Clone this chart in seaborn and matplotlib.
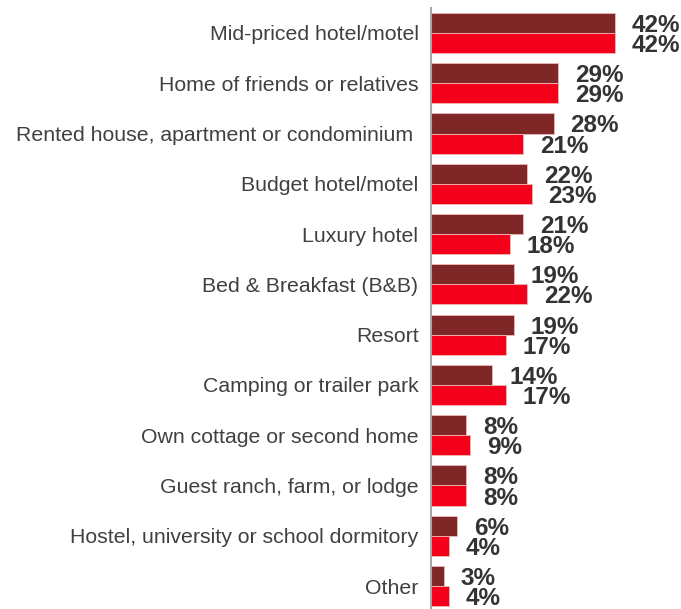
import matplotlib
matplotlib.use("Agg")
import matplotlib.pyplot as plt
import seaborn as sns
import pandas as pd

categories = [
    "Mid-priced hotel/motel",
    "Home of friends or relatives",
    "Rented house, apartment or condominium ",
    "Budget hotel/motel",
    "Luxury hotel",
    "Bed & Breakfast (B&B)",
    "Resort",
    "Camping or trailer park",
    "Own cottage or second home",
    "Guest ranch, farm, or lodge",
    "Hostel, university or school dormitory",
    "Other",
]
series_names = ["Group 1", "Group 2"]
values_group1 = [42, 29, 28, 22, 21, 19, 19, 14, 8, 8, 6, 3]
values_group2 = [42, 29, 21, 23, 18, 22, 17, 17, 9, 8, 4, 4]
colors = ["#7F2726", "#F5001A"]

df = pd.DataFrame({
    "category": categories * 2,
    "series": [series_names[0]] * len(categories) + [series_names[1]] * len(categories),
    "value": values_group1 + values_group2,
})

sns.set_style("white")
plt.rcParams["font.family"] = ["Liberation Sans", "DejaVu Sans"]

fig = plt.figure(figsize=(6.81, 6.09), dpi=100)
ax = fig.add_axes([431 / 681, 0.0, 1 - 431 / 681, 1 - 8 / 609])

sns.barplot(
    data=df, y="category", x="value", hue="series", order=categories,
    hue_order=series_names, palette=colors, saturation=1, orient="h", width=0.8,
    edgecolor="#F2B8B8", linewidth=0.6, legend=False, ax=ax,
)

# value labels just past the end of each bar
for container in ax.containers:
    for bar in container:
        w = bar.get_width()
        ax.annotate(
            f"{w:.0f}%", xy=(w, bar.get_y() + bar.get_height() / 2),
            xytext=(12, 0), textcoords="offset points",
            ha="left", va="center_baseline", fontsize=17.5, fontweight="bold",
            color="#333333",
        )

ax.set_xlim(0, 57)
ax.set_ylim(11.457, -0.497)
ax.set_xlabel("")
ax.set_ylabel("")
ax.set_xticks([])
ax.tick_params(axis="y", length=0, pad=9, labelsize=15.3, labelcolor="#404040")
for side in ["top", "right", "bottom"]:
    ax.spines[side].set_visible(False)
ax.spines["left"].set_color("#A6A6A6")
ax.spines["left"].set_linewidth(1.5)

fig.savefig("out.png", dpi=100)
